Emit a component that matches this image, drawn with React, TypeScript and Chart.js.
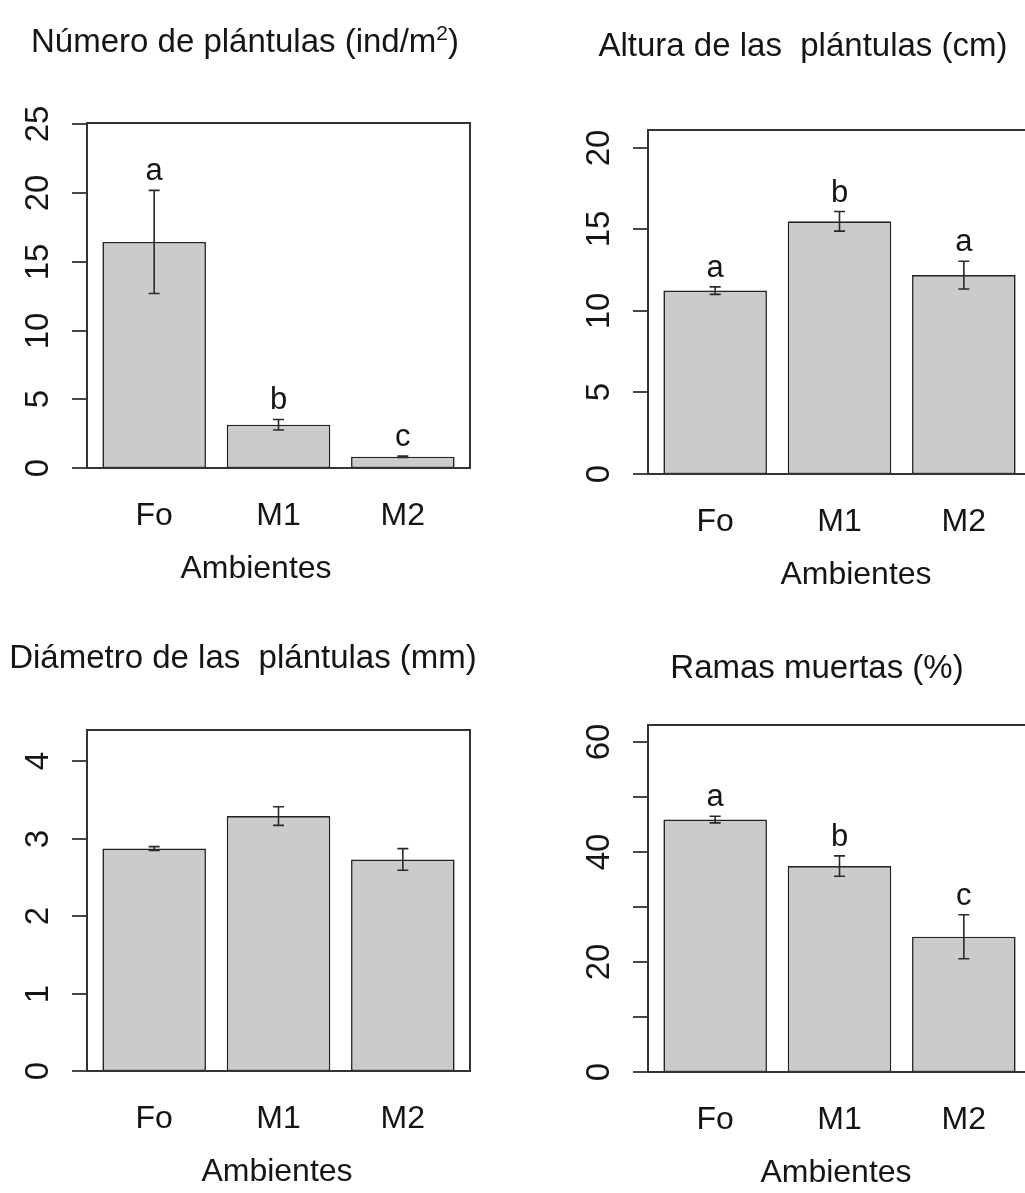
import React, { useEffect, useRef } from 'react';
import { Chart, registerables } from 'chart.js';

Chart.register(...registerables);

// ---------- data ----------
const categories = ['Fo', 'M1', 'M2'];
const axisTitle = 'Ambientes';

const plantulasMean = [16.45, 3.15, 0.82];
const plantulasSE = [3.75, 0.38, 0.05];
const plantulasLetters = ['a', 'b', 'c'];
const plantulasTicks = [0, 5, 10, 15, 20, 25];
const plantulasTickLabels = ['0', '5', '10', '15', '20', '25'];

const alturaMean = [11.25, 15.5, 12.2];
const alturaSE = [0.23, 0.6, 0.85];
const alturaLetters = ['a', 'b', 'a'];
const alturaTicks = [0, 5, 10, 15, 20];
const alturaTickLabels = ['0', '5', '10', '15', '20'];

const diametroMean = [2.87, 3.29, 2.73];
const diametroSE = [0.025, 0.12, 0.14];
const diametroLetters = ['', '', ''];
const diametroTicks = [0, 1, 2, 3, 4];
const diametroTickLabels = ['0', '1', '2', '3', '4'];

const ramasMean = [45.9, 37.45, 24.6];
const ramasSE = [0.6, 1.85, 4.0];
const ramasLetters = ['a', 'b', 'c'];
const ramasTicks = [0, 10, 20, 30, 40, 50, 60];
const ramasTickLabels = ['0', '', '20', '', '40', '', '60'];

// ---------- layout ----------
const W = 1040;
const H = 1193;
const FONT = '"Liberation Sans", Arial, Helvetica, sans-serif';
const INK = '#151515';

type Seg = { text: string; sup?: boolean };
type Spec = {
  title: Seg[];
  titleX: number;
  titleY: number;
  axisTitleX: number;
  box: { l: number; t: number; r: number; b: number };
  ymax: number;
  mean: number[];
  se: number[];
  letters: string[];
  ticks: number[];
  tickLabels: string[];
};

const panels: Spec[] = [
  {
    title: [{ text: 'Número de plántulas (ind/m' }, { text: '2', sup: true }, { text: ')' }],
    titleX: 245, titleY: 52, axisTitleX: 256,
    box: { l: 87, t: 123, r: 470, b: 468 }, ymax: 25.1,
    mean: plantulasMean, se: plantulasSE, letters: plantulasLetters,
    ticks: plantulasTicks, tickLabels: plantulasTickLabels,
  },
  {
    title: [{ text: 'Altura de las  plántulas (cm)' }],
    titleX: 803, titleY: 56, axisTitleX: 856,
    box: { l: 648, t: 130, r: 1031, b: 474 }, ymax: 21.1,
    mean: alturaMean, se: alturaSE, letters: alturaLetters,
    ticks: alturaTicks, tickLabels: alturaTickLabels,
  },
  {
    title: [{ text: 'Diámetro de las  plántulas (mm)' }],
    titleX: 243, titleY: 668, axisTitleX: 277,
    box: { l: 87, t: 730, r: 470, b: 1071 }, ymax: 4.4,
    mean: diametroMean, se: diametroSE, letters: diametroLetters,
    ticks: diametroTicks, tickLabels: diametroTickLabels,
  },
  {
    title: [{ text: 'Ramas muertas (%)' }],
    titleX: 817, titleY: 678, axisTitleX: 836,
    box: { l: 648, t: 725, r: 1031, b: 1072 }, ymax: 63.1,
    mean: ramasMean, se: ramasSE, letters: ramasLetters,
    ticks: ramasTicks, tickLabels: ramasTickLabels,
  },
];

function makeOverlay(p: Spec) {
  return {
    id: 'overlay',
    afterDatasetsDraw(chart: any) {
      const ctx: CanvasRenderingContext2D = chart.ctx;
      const xs = chart.scales.x;
      const ys = chart.scales.y;
      const { l, t, r, b } = p.box;
      ctx.save();
      ctx.fillStyle = INK;
      ctx.strokeStyle = '#2a2a2a';

      // error bars
      ctx.lineWidth = 1.6;
      p.mean.forEach((m, i) => {
        const cx = xs.getPixelForValue(i);
        const hi = ys.getPixelForValue(m + p.se[i]);
        const lo = ys.getPixelForValue(m - p.se[i]);
        ctx.beginPath();
        ctx.moveTo(cx, hi); ctx.lineTo(cx, lo);
        ctx.moveTo(cx - 5.5, hi); ctx.lineTo(cx + 5.5, hi);
        ctx.moveTo(cx - 5.5, lo); ctx.lineTo(cx + 5.5, lo);
        ctx.stroke();
        const lt = p.letters[i];
        if (lt) {
          ctx.font = `31px ${FONT}`;
          ctx.textAlign = 'center';
          ctx.textBaseline = 'alphabetic';
          ctx.fillText(lt, cx, hi - 10);
        }
      });

      // box
      ctx.lineWidth = 2;
      ctx.strokeStyle = '#333';
      ctx.strokeRect(l, t, r - l, b - t);

      // y ticks + rotated labels
      ctx.lineWidth = 1.8;
      ctx.font = `33px ${FONT}`;
      p.ticks.forEach((v, i) => {
        const py = Math.round(ys.getPixelForValue(v));
        ctx.beginPath();
        ctx.moveTo(l - 15, py); ctx.lineTo(l, py);
        ctx.stroke();
        const lab = p.tickLabels[i];
        if (lab) {
          ctx.save();
          ctx.translate(l - 39, py);
          ctx.rotate(-Math.PI / 2);
          ctx.textAlign = 'center';
          ctx.textBaseline = 'alphabetic';
          ctx.fillText(lab, 0, 0);
          ctx.restore();
        }
      });

      // x category labels
      ctx.font = `32px ${FONT}`;
      ctx.textAlign = 'center';
      ctx.textBaseline = 'alphabetic';
      categories.forEach((c, i) => {
        ctx.fillText(c, xs.getPixelForValue(i), b + 57);
      });
      ctx.fillText(axisTitle, p.axisTitleX, b + 110);

      // title with optional superscript
      const mainFont = `33px ${FONT}`;
      const supFont = `21px ${FONT}`;
      let total = 0;
      p.title.forEach((s) => {
        ctx.font = s.sup ? supFont : mainFont;
        total += ctx.measureText(s.text).width;
      });
      let x0 = p.titleX - total / 2;
      ctx.textAlign = 'left';
      p.title.forEach((s) => {
        ctx.font = s.sup ? supFont : mainFont;
        ctx.fillText(s.text, x0, s.sup ? p.titleY - 12 : p.titleY);
        x0 += ctx.measureText(s.text).width;
      });
      ctx.restore();
    },
  };
}

function PanelChart({ spec }: { spec: Spec }) {
  const ref = useRef<HTMLCanvasElement>(null);
  useEffect(() => {
    const inset = 5;
    const { l, t, r, b } = spec.box;
    const chart = new Chart(ref.current as HTMLCanvasElement, {
      type: 'bar',
      data: {
        labels: categories,
        datasets: [
          {
            data: spec.mean,
            backgroundColor: '#cbcbcb',
            borderColor: '#222',
            borderWidth: 1.6,
            borderSkipped: false,
            categoryPercentage: 1,
            barPercentage: 0.833,
          },
        ],
      },
      options: {
        responsive: false,
        animation: false,
        devicePixelRatio: 1,
        layout: {
          padding: { left: l + inset, right: W - (r - inset), top: t, bottom: H - b },
        },
        scales: {
          x: { type: 'category', display: false, offset: true },
          y: { type: 'linear', display: false, min: 0, max: spec.ymax },
        },
        plugins: {
          legend: { display: false },
          tooltip: { enabled: false },
          title: { display: false },
        },
      },
      plugins: [makeOverlay(spec)],
    } as any);
    return () => chart.destroy();
  }, [spec]);
  return (
    <canvas
      ref={ref}
      width={W}
      height={H}
      style={{ position: 'absolute', left: 0, top: 0, width: W, height: H }}
    />
  );
}

export default function App() {
  return (
    <div
      style={{
        position: 'absolute',
        left: 0,
        top: 0,
        width: 1025,
        height: 1193,
        overflow: 'hidden',
        background: '#fff',
      }}
    >
      {panels.map((p, i) => (
        <PanelChart key={i} spec={p} />
      ))}
    </div>
  );
}
